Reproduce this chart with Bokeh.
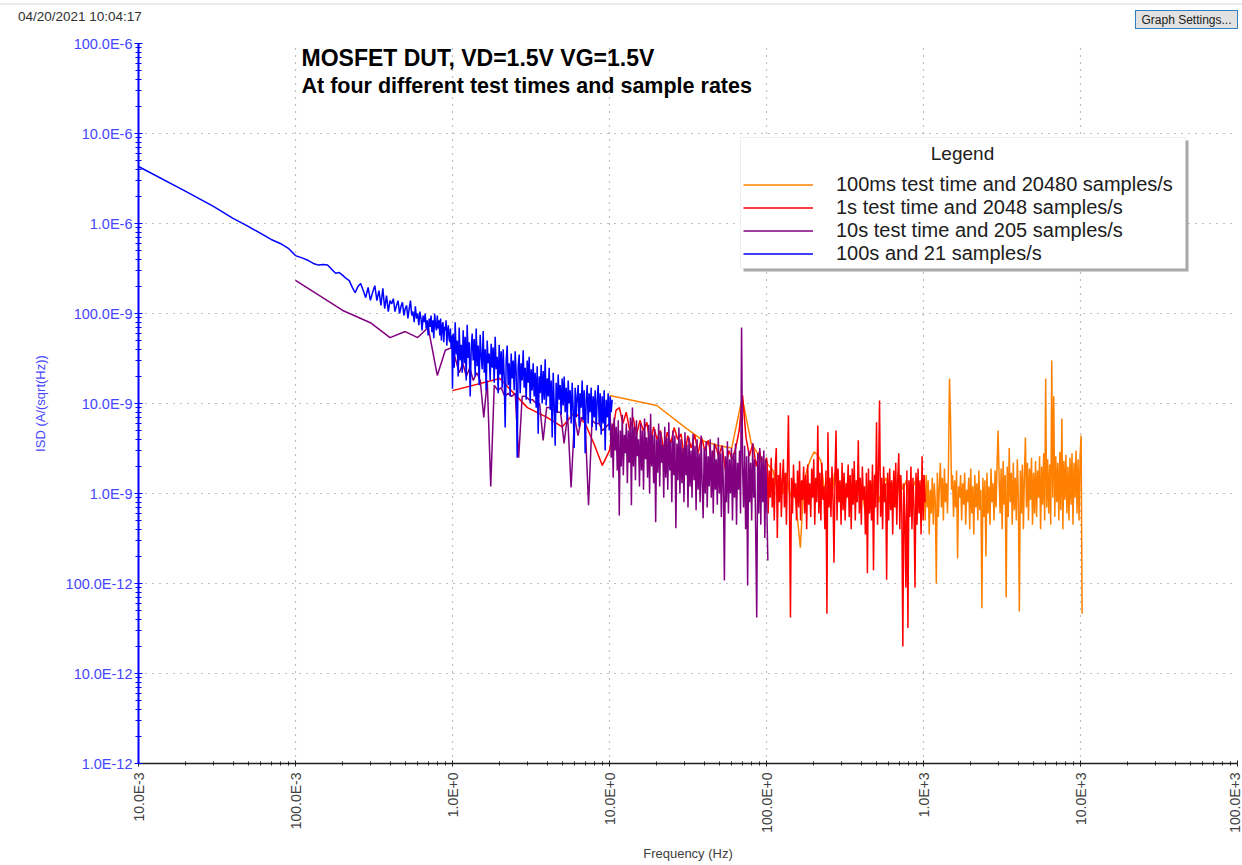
import numpy as np
from bokeh.plotting import figure
from bokeh.layouts import column
from bokeh.models import (FixedTicker, CustomJSTickFormatter, Label, Legend, LegendItem,
                          BoxAnnotation, Range1d, Div)
from bokeh.embed import file_html
from bokeh.resources import INLINE

# ---------------- data (values in nA/sqrt(Hz)) ----------------
NANO = 1e-9

# 100 s test, 21 samples/s : FFT bins 0.01 Hz, then dense part 1.01-10.4 Hz
blue_lo_df = 0.01
blue_lo = [4300, 2270, 1550, 1140, 930, 775, 665, 600, 530, 440,
           415, 390, 360, 345, 350, 345, 310, 280, 285, 265,
           245, 232, 195, 170, 200, 215, 180, 150, 195, 140,
           172, 204, 139, 180, 123, 190, 113, 158, 105, 139,
           128, 146, 105, 123, 139, 100, 120, 133, 95, 113,
           123, 88, 113, 139, 95, 105, 80, 120, 88, 100,
           74, 105, 88, 65, 95, 80, 100, 68, 84, 57,
           88, 71, 95, 62, 84, 53, 100, 74, 65, 95,
           68, 84, 57, 88, 50, 74, 80, 48, 71, 65,
           84, 44, 65, 74, 53, 48, 68, 41, 57, 14.6]
blue_hi_span = (1.01, 10.4)
blue_hi = [60, 25, 80, 35, 50, 20, 70, 30, 45, 22,
           65, 28, 55, 18, 75, 32, 48, 12, 40, 60,
           30, 52, 20, 68, 26, 44, 16, 58, 34, 24,
           64, 22, 40, 14, 50, 28, 36, 18, 46, 25,
           42, 17, 55, 24, 33, 13, 45, 21, 38, 15,
           40, 20, 5.4, 30, 44, 16, 28, 12, 36, 19,
           30, 14, 38, 22, 2.5, 26, 35, 13, 28, 18,
           39, 15, 25, 11, 30, 17, 33, 10, 24, 14,
           28, 12, 22, 9, 26, 4.6, 20, 13, 27, 10,
           23, 11, 31, 9.5, 19, 12, 25, 8.5, 18, 4.2,
           22, 10, 3.4, 17, 8, 21, 11, 16, 7.5, 19,
           9.5, 20, 8, 15, 6.5, 18, 10, 14, 6, 17,
           8.5, 3.2, 15, 7, 12, 16, 5.5, 13, 9, 18,
           6.5, 14, 2.8, 11, 16, 6, 13, 8, 15, 5.5,
           12, 7, 14, 5, 11, 16, 6, 13, 4.5, 12,
           6, 14, 3, 11, 7, 13, 5, 12, 8, 11]

# 10 s test, 205 samples/s
purple_lo_df = 0.1
purple_lo = [233, 108, 79, 54, 63, 54, 70, 20.5, 39, 42]
purple_mid_span = (1.05, 10.0)
purple_mid = [30, 22, 28, 20, 25, 18, 22, 18, 7, 18,
              1.2, 16, 14, 15, 12, 13, 12, 13, 2.5, 12,
              12, 11, 11, 10, 10, 3.9, 9, 9, 8.5, 8,
              8, 3.6, 7.5, 1.17, 7, 4.4, 7, 6.5, 0.74, 6.5,
              6, 6, 5, 5.5, 6]
purple_hi_span = (10.1, 102.0)
purple_hi = [8, 2.5, 6, 1.5, 7, 3, 5.5, 1.8, 6.5, 0.57,
             5, 2, 7.5, 1.6, 4.5, 2.8, 6, 1.3, 5, 2.2,
             7, 0.74, 9, 2, 5.5, 1.4, 6.5, 2.6, 4, 1.2,
             6, 1.8, 5, 1.1, 6.8, 2.4, 4.2, 1.5, 5.8, 1,
             7.7, 2, 4.5, 1.3, 5.2, 0.48, 4, 1.7, 6, 1.2,
             4.8, 2.2, 3.5, 0.9, 5.5, 1.5, 4.2, 1.1, 6.2, 1.8,
             3.8, 0.8, 5, 1.6, 4.4, 0.41, 3.6, 1.4, 5.4, 1,
             4, 1.3, 3.2, 0.8, 4.8, 1.6, 3.5, 0.7, 4.2, 1.2,
             3, 0.9, 4.6, 1.4, 3.4, 0.65, 4, 1.1, 2.8, 0.8,
             4.4, 1.3, 0.53, 3.2, 1, 3.8, 0.7, 2.6, 1.2, 4,
             0.9, 3, 0.6, 3.6, 1.1, 2.4, 0.75, 4.2, 1, 2.8,
             0.55, 3.4, 1.2, 0.108, 2.6, 0.8, 3.8, 0.6, 2.4, 1,
             3.2, 0.5, 2.8, 0.9, 3.6, 0.45, 2.2, 1.1, 3, 0.6,
             70, 2, 0.7, 3.4, 0.4, 2.6, 0.095, 3, 0.8, 2.2,
             0.5, 3.6, 0.9, 2.4, 0.35, 0.042, 2.8, 0.6, 3.2, 0.45,
             2.6, 0.8, 3, 0.32, 2.4, 0.7, 0.18]

# 1 s test, 2048 samples/s
red_lo_df = 1.0
red_lo = [13.9, 19, 9, 7, 5.5, 8, 6, 3.5, 2.05, 3]
red_mid_span = (11.0, 100.0)
red_mid = [8.4, 9, 6, 8, 5, 7, 4.5, 6.5, 5, 6.2,
           3.5, 5.5, 4, 5, 3, 4.8, 3.6, 5.4, 4, 4.6,
           2.5, 4.4, 3.2, 4.5, 2.8, 4.2, 3, 3.9, 2.2, 3.5,
           2.6, 3.4, 1.8, 3, 2.4, 3.2, 5, 12.3, 4.2, 2.6,
           3.6, 2, 3, 1.6, 2.5]
red_hi_span = (101.0, 1024.0)
red_hi = [2.2, 0.6, 1.8, 0.9, 2.5, 0.7, 1.5, 0.5, 2, 3.2,
          0.32, 1.6, 0.8, 2.2, 0.55, 1.4, 2.4, 0.7, 1.7, 0.45,
          1.9, 7.4, 0.8, 0.042, 1.5, 0.6, 2.1, 0.9, 1.3, 0.5,
          1.8, 0.7, 2.3, 0.5, 1.4, 0.85, 2, 0.6, 1.6, 0.4,
          2.1, 0.75, 1.3, 0.55, 1.9, 0.9, 2.4, 0.45, 1.5, 0.8,
          5.7, 0.6, 1.7, 0.5, 2.2, 0.85, 1.2, 0.4, 1.8, 0.046,
          4.8, 0.7, 1.5, 0.55, 2, 0.9, 0.17, 1.6, 5, 0.5,
          1.9, 0.8, 1.4, 0.45, 2.2, 0.65, 1.7, 0.5, 1.3, 0.9,
          2.1, 0.55, 1.6, 0.4, 1.9, 0.75, 2.3, 0.5, 1.4, 0.8,
          3.9, 0.6, 1.5, 0.45, 2, 0.85, 1.2, 0.35, 1.7, 0.13,
          1.9, 0.6, 1.4, 0.5, 2.1, 0.14, 1.6, 0.7, 6.2, 0.45,
          1.8, 10.8, 0.55, 1.5, 0.4, 2, 0.8, 1.3, 0.11, 1.7,
          0.5, 1.9, 0.65, 1.4, 0.35, 1.8, 0.7, 2.2, 0.45, 1.5,
          2.8, 0.4, 1.6, 0.6, 0.02, 1.3, 0.5, 0.09, 1.8, 0.032,
          1.4, 0.55, 2, 0.4, 1.5, 0.7, 0.09, 1.7, 0.45, 1.9,
          0.6, 1.4, 0.35, 2.6, 0.5, 1.6, 0.8]

# 100 ms test, 20480 samples/s
orange_lo_df = 10.0
orange_lo = [12.3, 9.5, 5.5, 3.8, 3.4, 3.2, 11.6, 3.6, 2.6, 2.2]
orange_mid_span = (110.0, 1000.0)
orange_mid = [1.8, 1.2, 1.6, 1.0, 1.7, 0.9, 1.4, 0.6, 0.25, 1.3,
              1.9, 2.4, 2.9, 2.7, 2.3, 1.1, 1.5, 0.8, 1.7, 1.0,
              1.3, 0.7, 1.6, 1.2, 0.9, 1.5, 1.1, 0.6, 1.4, 1.0,
              1.7, 0.8, 1.2, 1.5, 0.9, 1.3, 0.7, 1.6, 1.1, 1.4,
              0.8, 1.2, 1.5, 1.0, 1.3]
orange_hi_span = (1010.0, 10240.0)
orange_hi = [1.2, 0.5, 1.6, 0.7, 1.4, 0.35, 1.1, 0.6, 1.5, 0.45,
             1.3, 0.8, 0.1, 1.7, 0.55, 1.2, 2.2, 0.7, 1.5, 0.5,
             1.9, 0.8, 1.3, 0.6, 2, 19, 7, 1.1, 1.6, 0.55,
             1.4, 0.7, 1.8, 0.19, 1.2, 0.9, 1.6, 0.5, 1.3, 0.75,
             1.7, 0.45, 1.1, 0.8, 1.5, 0.4, 1.9, 0.6, 1.2, 0.35,
             1.6, 0.7, 1.3, 0.5, 1.8, 0.65, 1.1, 0.053, 1.5, 0.55,
             1.4, 0.2, 1.7, 0.6, 1.2, 0.45, 1.9, 0.8, 1.3, 0.5,
             1.8, 0.7, 2.1, 5, 1.5, 0.6, 1.9, 0.4, 2.3, 0.75,
             1.6, 0.07, 2, 0.55, 3.2, 0.8, 1.7, 0.45, 2.2, 0.65,
             1.5, 0.5, 2.4, 0.9, 0.049, 1.8, 0.6, 2.1, 0.4, 1.6,
             4.2, 0.7, 2.2, 0.5, 1.9, 0.85, 2.5, 0.45, 1.7, 0.6,
             2.3, 0.55, 1.8, 0.9, 2.6, 0.4, 2, 0.75, 2.8, 0.5,
             19, 0.7, 2.4, 0.6, 2.1, 0.45, 30, 0.9, 12, 0.55,
             2.6, 0.8, 2.2, 0.5, 2.9, 0.65, 6.8, 0.4, 2.3, 0.85,
             2.7, 0.6, 2, 0.5, 2.5, 0.75, 2.8, 0.45, 2.2, 0.9,
             3, 0.6, 2.4, 0.5, 2.6, 4.4, 0.046]

series_labels = ["100ms test time and 20480 samples/s",
                 "1s test time and 2048 samples/s",
                 "10s test time and 205 samples/s",
                 "100s and 21 samples/s"]
series_colors = ["#ff8000", "#ff0000", "#800080", "#0000ff"]

x_ticks = [1e-2, 1e-1, 1e0, 1e1, 1e2, 1e3, 1e4, 1e5]
x_tick_labels = ["10.0E-3", "100.0E-3", "1.0E+0", "10.0E+0", "100.0E+0",
                 "1.0E+3", "10.0E+3", "100.0E+3"]
y_ticks = [1e-12, 1e-11, 1e-10, 1e-9, 1e-8, 1e-7, 1e-6, 1e-5, 1e-4]
y_tick_labels = ["1.0E-12", "10.0E-12", "100.0E-12", "1.0E-9", "10.0E-9",
                 "100.0E-9", "1.0E-6", "10.0E-6", "100.0E-6"]


def build(lo_df, lo, spans_vals):
    f = [lo_df * np.arange(1, len(lo) + 1)]
    v = [np.asarray(lo, float)]
    for (a, b), vals in spans_vals:
        f.append(np.geomspace(a, b, len(vals)))
        v.append(np.asarray(vals, float))
    return np.concatenate(f), np.concatenate(v) * NANO


orange_f, orange_v = build(orange_lo_df, orange_lo, [(orange_mid_span, orange_mid), (orange_hi_span, orange_hi)])
red_f, red_v = build(red_lo_df, red_lo, [(red_mid_span, red_mid), (red_hi_span, red_hi)])
purple_f, purple_v = build(purple_lo_df, purple_lo, [(purple_mid_span, purple_mid), (purple_hi_span, purple_hi)])
blue_f, blue_v = build(blue_lo_df, blue_lo, [(blue_hi_span, blue_hi)])

# ---------------- layout constants ----------------
FONT = "Liberation Sans"
TOP_STRIP = 35                 # height of the window strip above the chart
FL, FB = 138, 763              # frame left / bottom in page px (for screen-unit annotations)

# window strip (date stamp + settings button)
strip = Div(width=1242, height=TOP_STRIP, margin=0, text=(
    '<div style="position:relative;width:1242px;height:%dpx;font-family:\'Liberation Sans\',Arial,sans-serif;">'
    '<div style="position:absolute;left:0;top:3px;width:1242px;height:2px;background:#ececec"></div>'
    '<span style="position:absolute;left:18px;top:7px;font-size:13.5px;color:#303030;white-space:nowrap">04/20/2021 10:04:17</span>'
    '<div style="position:absolute;left:1135px;top:10px;width:103px;height:19px;background:#e1e1e1;'
    'border:1px solid #2f7fc4;font-size:12px;line-height:19px;text-align:center;color:#202020;white-space:nowrap">'
    'Graph Settings...</div></div>') % TOP_STRIP)

p = figure(width=1242, height=865 - TOP_STRIP, x_axis_type="log", y_axis_type="log",
           x_range=Range1d(1e-2, 1e5), y_range=Range1d(1e-12, 1e-4),
           output_backend="svg", toolbar_location=None, margin=0,
           min_border_left=138, min_border_right=5, min_border_top=43 - TOP_STRIP,
           min_border_bottom=102)
p.outline_line_color = None
p.background_fill_color = "white"
p.border_fill_color = "white"

fmt_code = """
let best = 0, d = Infinity;
for (let i = 0; i < tvals.length; i++) {
  const e = Math.abs(Math.log10(tvals[i]) - Math.log10(tick));
  if (e < d) { d = e; best = i; }
}
return d < 0.01 ? tlabs[best] : "";
"""

x_minor = [m * 10.0 ** k for k in range(-2, 5) for m in range(2, 10)]
y_minor = [m * 10.0 ** k for k in range(-12, -4) for m in range(2, 10)]

xa = p.xaxis[0]
xa.ticker = FixedTicker(ticks=x_ticks, minor_ticks=x_minor)
xa.formatter = CustomJSTickFormatter(args=dict(tvals=x_ticks, tlabs=x_tick_labels), code=fmt_code)
xa.major_label_orientation = np.pi / 2
xa.major_label_text_font = FONT
xa.major_label_text_font_size = "14px"
xa.major_label_text_color = "#404040"
xa.major_label_standoff = 6
xa.axis_line_color = "#202020"
xa.axis_line_width = 1.5
xa.major_tick_line_color = "#202020"
xa.minor_tick_line_color = "#202020"
xa.major_tick_in = 3
xa.major_tick_out = 3
xa.minor_tick_in = 2
xa.minor_tick_out = 2
xa.axis_label = "Frequency (Hz)"
xa.axis_label_text_font = FONT
xa.axis_label_text_font_size = "13px"
xa.axis_label_text_font_style = "normal"
xa.axis_label_text_color = "#404040"
xa.axis_label_standoff = 10

ya = p.yaxis[0]
ya.ticker = FixedTicker(ticks=y_ticks, minor_ticks=y_minor)
ya.formatter = CustomJSTickFormatter(args=dict(tvals=y_ticks, tlabs=y_tick_labels), code=fmt_code)
ya.major_label_text_font = FONT
ya.major_label_text_font_size = "14.5px"
ya.major_label_text_color = "#4646ff"
ya.major_label_standoff = 2
ya.axis_line_color = "#0000ff"
ya.axis_line_width = 2
ya.major_tick_line_color = "#0000ff"
ya.minor_tick_line_color = "#0000ff"
ya.major_tick_in = 4
ya.major_tick_out = 4
ya.minor_tick_in = 3
ya.minor_tick_out = 3
ya.axis_label = "ISD (A/(sqrt(Hz))"
ya.axis_label_text_font = FONT
ya.axis_label_text_font_size = "13px"
ya.axis_label_text_font_style = "normal"
ya.axis_label_text_color = "#4646ff"
ya.axis_label_standoff = 15

for g in (p.xgrid[0], p.ygrid[0]):
    g.grid_line_color = "#808080"
    g.grid_line_dash = "1 6"
    g.grid_line_width = 1.2

renderers = []
for f, v, c in ((orange_f, orange_v, series_colors[0]), (red_f, red_v, series_colors[1]),
                (purple_f, purple_v, series_colors[2]), (blue_f, blue_v, series_colors[3])):
    renderers.append(p.line(f, v, line_color=c, line_width=1.5))

# ---------------- annotations (page px converted to frame-relative screen px) ----------------
def sx(cx):
    return cx - FL


def sy(cy):
    return FB - cy


p.add_layout(BoxAnnotation(left=sx(743), right=sx(1188), top=sy(140), bottom=sy(271),
                           left_units="screen", right_units="screen", top_units="screen", bottom_units="screen",
                           fill_color="#a8a8a8", fill_alpha=1, line_color=None))
p.add_layout(BoxAnnotation(left=sx(740), right=sx(1185), top=sy(137), bottom=sy(268),
                           left_units="screen", right_units="screen", top_units="screen", bottom_units="screen",
                           fill_color="white", fill_alpha=1, line_color="#c8c8c8", line_width=1))
p.add_layout(Label(x=sx(962), y=sy(153), x_units="screen", y_units="screen", text="Legend",
                   text_align="center", text_baseline="middle",
                   text_font=FONT, text_font_size="19px", text_color="#202020"))

legend = Legend(items=[LegendItem(label=series_labels[i], renderers=[renderers[i]]) for i in range(4)],
                location=(sx(743), sy(265)), padding=0, margin=0, spacing=0,
                glyph_width=70, glyph_height=21, label_height=21, label_standoff=23,
                label_text_font=FONT, label_text_font_size="20px", label_text_color="#202020",
                background_fill_alpha=0, border_line_alpha=0)
p.add_layout(legend)

p.add_layout(Label(x=sx(301), y=sy(57), x_units="screen", y_units="screen",
                   text="MOSFET DUT, VD=1.5V VG=1.5V", text_baseline="middle",
                   text_font=FONT, text_font_size="23px", text_font_style="bold", text_color="#000000"))
p.add_layout(Label(x=sx(301), y=sy(85), x_units="screen", y_units="screen",
                   text="At four different test times and sample rates", text_baseline="middle",
                   text_font=FONT, text_font_size="21.5px", text_font_style="bold", text_color="#000000"))

page = column(strip, p, spacing=0)
open("out.html", "w").write(file_html(page, INLINE))
